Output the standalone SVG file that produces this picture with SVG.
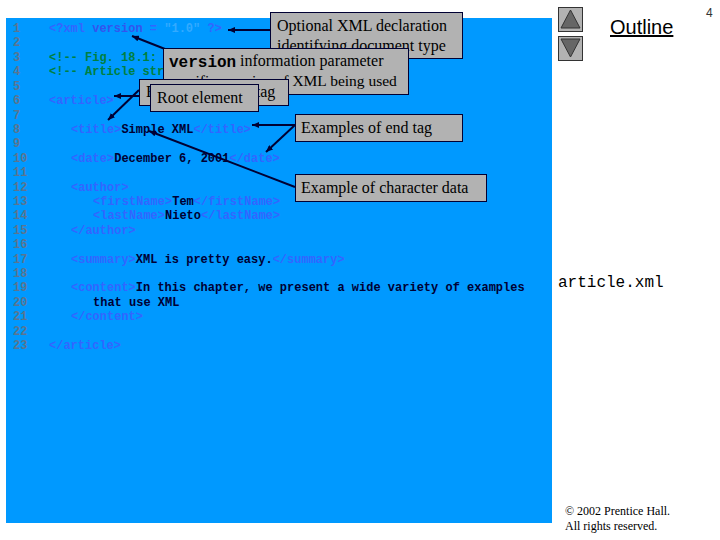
<svg xmlns="http://www.w3.org/2000/svg" width="720" height="540" viewBox="0 0 720 540">
<style>
.c{font-family:"Liberation Mono","Courier New",monospace;font-size:12px;font-weight:bold;white-space:pre}
.n{fill:#5a7590}.t{fill:#3366ff}.d{fill:#000033}.g{fill:#008040}.v{fill:#3355ee}.s{fill:#33aaff}
.b{fill:#b2b2b2;stroke:#000033;stroke-width:1}
.l{font-family:"Liberation Serif","Times New Roman",serif;font-size:16px;fill:#000}
.k{font-family:"Liberation Mono","Courier New",monospace;font-weight:bold;font-size:16px;fill:#000}
.a{stroke:#000033;stroke-width:2;fill:none;marker-end:url(#h)}
.f{font-family:"Liberation Serif","Times New Roman",serif;font-size:12px;fill:#000}
.btn{fill:#b2b2b2;stroke:#333;stroke-width:1}.tri{fill:#666;stroke:#333;stroke-width:1}
</style>
<defs><marker id="h" markerUnits="userSpaceOnUse" markerWidth="8" markerHeight="6" refX="7" refY="3" orient="auto"><path d="M0 0L7 3L0 6z" fill="#000033"/></marker></defs>
<rect id="panel" x="6" y="18" width="546" height="505" fill="#0099ff"/>
<g id="code" class="c">
<text class="c n" x="13" y="32">1</text>
<text class="c n" x="13" y="46">2</text>
<text class="c n" x="13" y="61">3</text>
<text class="c n" x="13" y="75">4</text>
<text class="c n" x="13" y="90">5</text>
<text class="c n" x="13" y="104">6</text>
<text class="c n" x="13" y="119">7</text>
<text class="c n" x="13" y="133">8</text>
<text class="c n" x="13" y="147">9</text>
<text class="c n" x="13" y="162">10</text>
<text class="c n" x="13" y="176">11</text>
<text class="c n" x="13" y="191">12</text>
<text class="c n" x="13" y="205">13</text>
<text class="c n" x="13" y="219">14</text>
<text class="c n" x="13" y="234">15</text>
<text class="c n" x="13" y="248">16</text>
<text class="c n" x="13" y="263">17</text>
<text class="c n" x="13" y="277">18</text>
<text class="c n" x="13" y="291">19</text>
<text class="c n" x="13" y="306">20</text>
<text class="c n" x="13" y="320">21</text>
<text class="c n" x="13" y="335">22</text>
<text class="c n" x="13" y="349">23</text>
<text class="c" x="49" y="32"><tspan class="t">&lt;?xml </tspan><tspan class="v">version</tspan><tspan class="t"> = </tspan><tspan class="s">"1.0"</tspan><tspan class="t"> ?&gt;</tspan></text>
<text class="c g" x="49" y="61">&lt;!-- Fig. 18.1:</text>
<text class="c g" x="49" y="75">&lt;!-- Article str</text>
<text class="c t" x="49" y="104">&lt;article&gt;</text>
<text class="c" x="71" y="133"><tspan class="t">&lt;title&gt;</tspan><tspan class="d">Simple XML</tspan><tspan class="t">&lt;/title&gt;</tspan></text>
<text class="c" x="71" y="162"><tspan class="t">&lt;date&gt;</tspan><tspan class="d">December 6, 2001</tspan><tspan class="t">&lt;/date&gt;</tspan></text>
<text class="c t" x="71" y="191">&lt;author&gt;</text>
<text class="c" x="93" y="205"><tspan class="t">&lt;firstName&gt;</tspan><tspan class="d">Tem</tspan><tspan class="t">&lt;/firstName&gt;</tspan></text>
<text class="c" x="93" y="219"><tspan class="t">&lt;lastName&gt;</tspan><tspan class="d">Nieto</tspan><tspan class="t">&lt;/lastName&gt;</tspan></text>
<text class="c t" x="71" y="234">&lt;/author&gt;</text>
<text class="c" x="71" y="263"><tspan class="t">&lt;summary&gt;</tspan><tspan class="d">XML is pretty easy.</tspan><tspan class="t">&lt;/summary&gt;</tspan></text>
<text class="c" x="71" y="291"><tspan class="t">&lt;content&gt;</tspan><tspan class="d">In this chapter, we present a wide variety of examples</tspan></text>
<text class="c d" x="93" y="306">that use XML</text>
<text class="c t" x="71" y="320">&lt;/content&gt;</text>
<text class="c t" x="49" y="349">&lt;/article&gt;</text>
</g>
<g id="connectors">
<line class="a" x1="270" y1="30" x2="228" y2="30"/>
<line class="a" x1="165" y1="49" x2="132" y2="36"/>
<line class="a" x1="139" y1="96" x2="114" y2="96"/>
<line class="a" x1="139" y1="90" x2="108" y2="120"/>
<line class="a" x1="295" y1="125" x2="252" y2="125"/>
<line class="a" x1="295" y1="125" x2="266" y2="152"/>
<line class="a" x1="295" y1="187" x2="149" y2="131"/>
</g>
<g id="note-declaration"><rect class="b" x="270.500" y="12.500" width="192" height="46"/><text class="l" x="277" y="31">Optional XML declaration</text><text class="l" x="277" y="51">identifying document type</text></g>
<g id="note-version"><rect class="b" x="163.500" y="48.500" width="245" height="46"/><text class="k" x="169" y="67">version</text><text class="l" x="240" y="66">information parameter</text><text class="l" x="168" y="86" style="font-size:15.500px">specifies version of XML being used</text></g>
<g id="note-start"><rect class="b" x="139.500" y="79.500" width="149" height="26"/><text class="l" x="146" y="97">Example of start tag</text></g>
<g id="note-root"><rect class="b" x="150.500" y="84.500" width="108" height="27"/><text class="l" x="157" y="103">Root element</text></g>
<g id="note-end"><rect class="b" x="295.500" y="114.500" width="167" height="27"/><text class="l" x="301" y="133">Examples of end tag</text></g>
<g id="note-char"><rect class="b" x="295.500" y="174.500" width="191" height="27"/><text class="l" x="301" y="193">Example of character data</text></g>
<g id="nav-up"><rect class="btn" x="558.500" y="7.500" width="24" height="24"/><path class="tri" d="M570.500 10L580 28H561z"/></g>
<g id="nav-down"><rect class="btn" x="558.500" y="36.500" width="24" height="24"/><path class="tri" d="M561 39H580L570.500 57z"/></g>
<text id="outline" x="610" y="34" font-family="'Liberation Sans',Arial,sans-serif" font-size="20" text-decoration="underline">Outline</text>
<text id="page" x="706" y="17" font-family="'Liberation Sans',Arial,sans-serif" font-size="12" fill="#333">4</text>
<text id="file" x="558" y="287" font-family="'Liberation Mono','Courier New',monospace" font-size="16">article.xml</text>
<g id="copyright"><text class="f" x="565" y="515">© 2002 Prentice Hall.</text><text class="f" x="565" y="530">All rights reserved.</text></g>
</svg>
